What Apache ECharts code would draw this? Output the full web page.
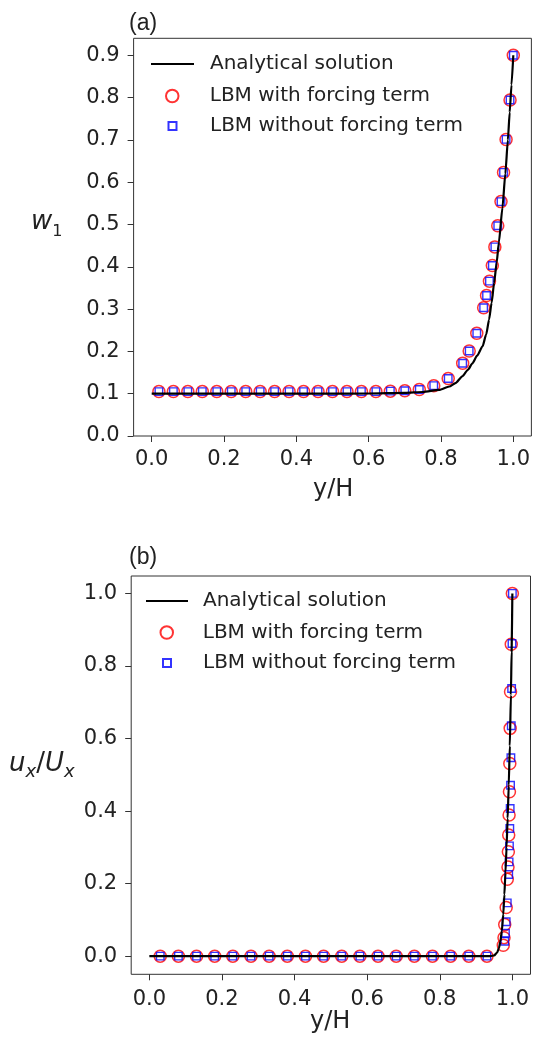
<!DOCTYPE html>
<html>
<head>
<meta charset="utf-8">
<script src="https://cdn.jsdelivr.net/npm/echarts@6/dist/echarts.min.js"></script>
<style>
html,body{margin:0;padding:0;background:#fff;}
#main{width:533px;height:1044px;}
</style>
</head>
<body>
<div id="main"></div>
<script>
// ---- data ----
var xTicks = [0, 0.2, 0.4, 0.6, 0.8, 1.0];
var aYTicks = [0, 0.1, 0.2, 0.3, 0.4, 0.5, 0.6, 0.7, 0.8, 0.9];
var bYTicks = [0, 0.2, 0.4, 0.6, 0.8, 1.0];

// (a) w1 : analytical curve
var aLineX = [0, 0.3, 0.5, 0.6, 0.7, 0.75, 0.795, 0.823, 0.84, 0.859, 0.875, 0.887, 0.9, 0.915, 0.925, 0.933, 0.94, 0.947, 0.954, 0.96, 0.97, 0.978, 0.985, 0.99, 0.995, 1.0];
var aLineY = [0.1, 0.1, 0.1, 0.1005, 0.102, 0.104, 0.109, 0.117, 0.125, 0.141, 0.157, 0.172, 0.19, 0.212, 0.24, 0.275, 0.315, 0.362, 0.41, 0.457, 0.54, 0.62, 0.7, 0.765, 0.83, 0.9];
// (a) LBM points (with / without forcing coincide)
var aLbmX = [0.02, 0.06, 0.10, 0.14, 0.18, 0.22, 0.26, 0.30, 0.34, 0.38, 0.42, 0.46, 0.50, 0.54, 0.58, 0.62, 0.66, 0.70, 0.74, 0.78, 0.82, 0.86, 0.878, 0.899, 0.918, 0.926, 0.934, 0.942, 0.949, 0.957, 0.966, 0.973, 0.98, 0.991, 1.0];
var aLbmY = [0.105, 0.105, 0.105, 0.105, 0.105, 0.105, 0.105, 0.105, 0.105, 0.105, 0.105, 0.105, 0.105, 0.105, 0.105, 0.105, 0.106, 0.107, 0.11, 0.119, 0.136, 0.172, 0.201, 0.243, 0.303, 0.332, 0.366, 0.403, 0.447, 0.497, 0.554, 0.623, 0.701, 0.794, 0.9];

// (b) ux/Ux : analytical curve
var bLineX = [0, 0.5, 0.94, 0.95, 0.958, 0.963, 0.967, 0.971, 0.975, 0.978, 0.981, 0.984, 0.987, 0.99, 0.993, 0.996, 0.998, 1.0];
var bLineY = [0, 0, 0, 0.002, 0.01, 0.022, 0.04, 0.07, 0.115, 0.17, 0.23, 0.3, 0.38, 0.47, 0.58, 0.72, 0.84, 1.0];
// (b) LBM with forcing term
var bFrcX = [0.03, 0.08, 0.13, 0.18, 0.23, 0.28, 0.33, 0.38, 0.43, 0.48, 0.53, 0.58, 0.63, 0.68, 0.73, 0.78, 0.83, 0.88, 0.93, 0.975, 0.977, 0.979, 0.983, 0.986, 0.988, 0.989, 0.990, 0.991, 0.992, 0.993, 0.994, 0.995, 0.997, 1.0];
var bFrcY = [0, 0, 0, 0, 0, 0, 0, 0, 0, 0, 0, 0, 0, 0, 0, 0, 0, 0, 0, 0.03, 0.051, 0.087, 0.134, 0.212, 0.246, 0.288, 0.334, 0.389, 0.453, 0.531, 0.628, 0.729, 0.86, 1.0];
// (b) LBM without forcing term
var bNofX = [0.03, 0.08, 0.13, 0.18, 0.23, 0.28, 0.33, 0.38, 0.43, 0.48, 0.53, 0.58, 0.63, 0.68, 0.73, 0.78, 0.83, 0.88, 0.93, 0.979, 0.981, 0.983, 0.986, 0.990, 0.991, 0.992, 0.993, 0.994, 0.995, 0.996, 0.997, 0.998, 0.999, 1.0];
var bNofY = [0, 0, 0, 0, 0, 0, 0, 0, 0, 0, 0, 0, 0, 0, 0, 0, 0, 0, 0, 0.041, 0.063, 0.095, 0.147, 0.225, 0.26, 0.304, 0.352, 0.407, 0.471, 0.547, 0.635, 0.738, 0.862, 1.0];

var NAME_LINE = 'Analytical solution';
var NAME_FRC = 'LBM with forcing term';
var NAME_NOF = 'LBM without forcing term';

function pairs(xs, ys){
    return xs.map(function(x, i){ return [x, ys[i]]; });
}

var FONT = 'DejaVu Sans';
var TXT = '#222';
var AXC = '#333';

function xAxisOf(idx, margin){
    return {
        gridIndex: idx, type: 'value', min: -0.05, max: 1.05,
        axisLine: {show: false, onZero: false}, splitLine: {show: false},
        axisTick: {show: true, customValues: xTicks, length: 6, lineStyle: {color: AXC, width: 1}},
        axisLabel: {customValues: xTicks, margin: margin, color: TXT, fontSize: 21, fontFamily: FONT,
            formatter: function(v){ return v.toFixed(1); }}
    };
}
function yAxisOf(idx, min, max, ticks){
    return {
        gridIndex: idx, type: 'value', min: min, max: max,
        axisLine: {show: false, onZero: false}, splitLine: {show: false},
        axisTick: {show: true, customValues: ticks, length: 6, lineStyle: {color: AXC, width: 1}},
        axisLabel: {customValues: ticks, margin: 14, color: TXT, fontSize: 21, fontFamily: FONT,
            formatter: function(v){ return v.toFixed(1); }}
    };
}
function lineSeries(idx, data){
    return {type: 'line', name: NAME_LINE, xAxisIndex: idx, yAxisIndex: idx, data: data,
        symbol: 'none', smooth: 0.2, smoothMonotone: 'x', z: 4, silent: true,
        lineStyle: {color: '#000', width: 2.2}, itemStyle: {color: '#000'}};
}
function circSeries(idx, data){
    return {type: 'scatter', name: NAME_FRC, xAxisIndex: idx, yAxisIndex: idx, data: data,
        symbol: 'circle', symbolSize: 12, z: 2, silent: true,
        itemStyle: {color: 'transparent', borderColor: '#ff0000', borderWidth: 1.5}};
}
function rectSeries(idx, data){
    return {type: 'scatter', name: NAME_NOF, xAxisIndex: idx, yAxisIndex: idx, data: data,
        symbol: 'rect', symbolSize: 7.5, z: 3, silent: true,
        itemStyle: {color: 'transparent', borderColor: '#0000ff', borderWidth: 1.4}};
}
function legendOf(name, left, cy, w, h, pad, hideSymbol){
    var lg = {data: [name], left: left, top: cy - 10, itemWidth: w, itemHeight: h, padding: 0,
        selectedMode: false,
        textStyle: {fontSize: 20, lineHeight: 20, color: TXT, fontFamily: FONT, padding: [0, 0, 0, pad]}};
    if (hideSymbol) lg.itemStyle = {opacity: 0};
    return lg;
}
function label(text, x, y, size, family){
    return {type: 'text', silent: true,
        style: {text: text, x: x, y: y, fill: TXT, fontSize: size, fontFamily: family || FONT,
            align: 'left', verticalAlign: 'middle'}};
}

var myChart = echarts.init(document.getElementById('main'), null, {renderer: 'canvas'});
var option = {
    animation: false,
    backgroundColor: '#fff',
    grid: [
        {left: 133.6, top: 38.3, width: 398.8, height: 397.7, show: true, borderColor: AXC, borderWidth: 1, backgroundColor: 'transparent'},
        {left: 131.2, top: 576, width: 399.3, height: 398.3, show: true, borderColor: AXC, borderWidth: 1, backgroundColor: 'transparent'}
    ],
    xAxis: [xAxisOf(0, 13), xAxisOf(1, 15)],
    yAxis: [yAxisOf(0, 0, 0.94, aYTicks), yAxisOf(1, -0.05, 1.048, bYTicks)],
    legend: [
        legendOf(NAME_LINE, 150, 64, 43, 13, 11, true),
        legendOf(NAME_FRC, 165, 96, 13, 12.5, 26),
        legendOf(NAME_NOF, 167.5, 126, 8, 8, 28.5),
        legendOf(NAME_LINE, 145, 601, 42, 13, 10, true),
        legendOf(NAME_FRC, 159.5, 632.5, 13, 12.5, 24.5),
        legendOf(NAME_NOF, 162, 663, 8, 8, 27)
    ],
    series: [
        lineSeries(0, pairs(aLineX, aLineY)),
        circSeries(0, pairs(aLbmX, aLbmY)),
        rectSeries(0, pairs(aLbmX, aLbmY)),
        lineSeries(1, pairs(bLineX, bLineY)),
        circSeries(1, pairs(bFrcX, bFrcY)),
        rectSeries(1, pairs(bNofX, bNofY))
    ],
    graphic: [
        label('(a)', 129, 24, 23, 'Liberation Sans'),
        label('(b)', 129, 558, 23, 'Liberation Sans'),
        label('y/H', 313, 489.7, 24),
        label('y/H', 310, 1021.7, 24),
        {type: 'text', silent: true, style: {text: '{i|w}{s|1}', x: 31, y: 222.7, fill: TXT,
            align: 'left', verticalAlign: 'middle',
            rich: {
                i: {fontFamily: FONT, fontStyle: 'italic', fontSize: 26, lineHeight: 34, verticalAlign: 'middle', fill: TXT},
                s: {fontFamily: FONT, fontSize: 16, lineHeight: 16, verticalAlign: 'bottom', fill: TXT}
            }}},
        {type: 'text', silent: true, style: {text: '{i|u}{s|x}{n|/}{i|U}{s|x}', x: 9, y: 764, fill: TXT,
            align: 'left', verticalAlign: 'middle',
            rich: {
                i: {fontFamily: FONT, fontStyle: 'italic', fontSize: 26, lineHeight: 34, verticalAlign: 'middle', fill: TXT},
                n: {fontFamily: FONT, fontSize: 26, lineHeight: 34, verticalAlign: 'middle', fill: TXT},
                s: {fontFamily: FONT, fontStyle: 'italic', fontSize: 18, lineHeight: 12, verticalAlign: 'bottom', fill: TXT}
            }}}
    ]
};
myChart.setOption(option);
</script>
</body>
</html>
